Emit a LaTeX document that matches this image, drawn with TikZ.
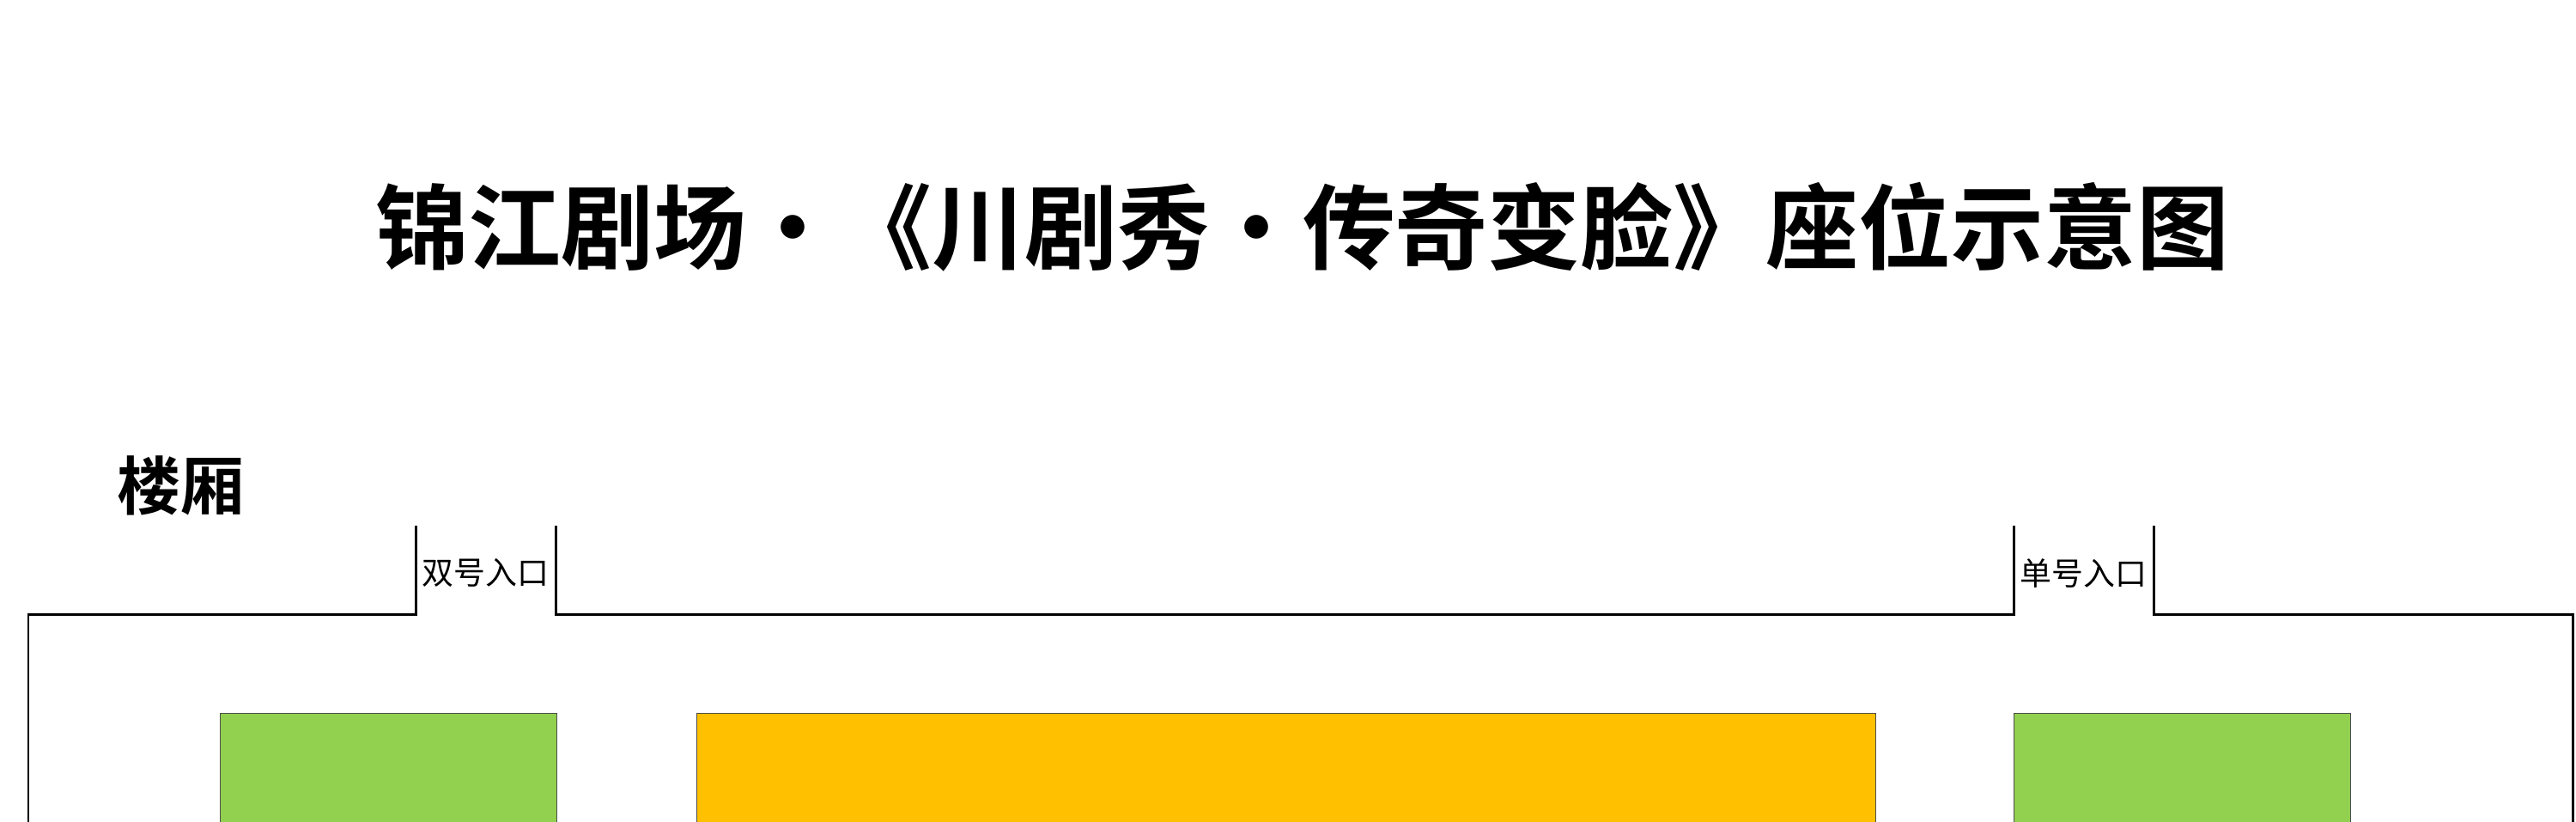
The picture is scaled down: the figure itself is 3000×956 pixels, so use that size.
\documentclass[tikz,border=0pt]{standalone}
\usepackage{fontspec}
\newfontfamily\cjk{Noto Sans CJK SC}[BoldFont={Noto Sans CJK SC Bold}]
\newcommand{\middot}{\makebox[1em]{·}}

\begin{document}
\begin{tikzpicture}[x=0.01cm, y=-0.01cm]
\tikzstyle{every node} = [inner sep=0pt, font=\cjk]
\tikzstyle{wall} = [draw=black, line width=0.85pt]
\tikzstyle{seats} = [draw=black!70, line width=0.3pt, anchor=north west, minimum height=2cm]
\useasboundingbox (0,0) rectangle (3000,956);
\clip (0,0) rectangle (3000,956);

% title and floor
\node [font=\cjk\bfseries\fontsize{30.7pt}{34pt}\selectfont] (title) at (1517,264) {锦江剧场\middot《川剧秀\middot 传奇变脸》座位示意图};
\node [font=\cjk\bfseries\fontsize{21pt}{24pt}\selectfont] (floor) at (210,565) {楼厢};

% walls with the two entrances
\draw [wall] (33,1000) -- (33,715) -- (484,715) -- (484,612);
\draw [wall] (647,612) -- (647,715) -- (2345,715) -- (2345,612);
\draw [wall] (2508,612) -- (2508,715) -- (2996,715) -- (2996,1000);
\node [font=\cjk\fontsize{10.5pt}{12pt}\selectfont] (even) at (565.5,667) {双号入口};
\node [font=\cjk\fontsize{10.5pt}{12pt}\selectfont] (odd) at (2426.5,667) {单号入口};

% seat blocks
\node [seats, fill={rgb,255:red,146;green,208;blue,80}, minimum width=3.92cm] (sideL) at (256,830) {};
\node [seats, fill={rgb,255:red,255;green,192;blue,0}, minimum width=13.72cm] (centre) at (811,830) {};
\node [seats, fill={rgb,255:red,146;green,208;blue,80}, minimum width=3.92cm] (sideR) at (2345,830) {};

\end{tikzpicture}
\end{document}
